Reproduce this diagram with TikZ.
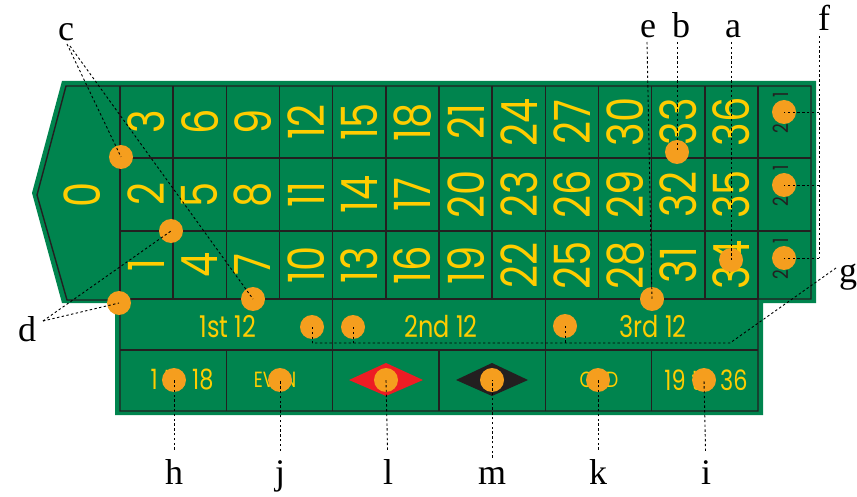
\documentclass[tikz,border=0pt]{standalone}
\usepackage{fontspec}
\newfontfamily\numfont[FakeStretch=0.8]{Poppins}
\newfontfamily\labfont{Liberation Serif}
\definecolor{felt}{RGB}{0,132,78}
\definecolor{gold}{RGB}{255,205,0}
\definecolor{chipc}{RGB}{245,158,30}
\definecolor{redd}{RGB}{237,28,36}
\definecolor{gridc}{RGB}{35,31,32}
\tikzset{
  gridline/.style={draw=gridc, line width=1.4pt},
  num/.style={text=gold, font=\numfont\fontsize{50}{50}\selectfont, inner sep=0pt, rotate=90},
  doz/.style={text=gold, font=\numfont\fontsize{30}{30}\selectfont, inner sep=0pt},
  outside/.style={text=gold, inner sep=0pt},
  tofont/.style={text=gridc, font=\numfont\fontsize{21}{21}\selectfont, inner sep=0pt, rotate=90},
  chip/.style={circle, fill=chipc, minimum size=24pt, inner sep=0pt},
  lab/.style={font=\labfont\fontsize{36}{36}\selectfont, text=black, inner sep=1pt, anchor=base},
  lead/.style={draw=black, line width=0.9pt, dash pattern=on 2.4pt off 2.4pt}
}
\begin{document}
\begin{tikzpicture}[x=1pt,y=-1pt]
\useasboundingbox (0,0) rectangle (857,497);
% felt
\fill[felt] (62,81) -- (816,81) -- (816,303) -- (763,303) -- (763,415) -- (115,415) -- (115,303) -- (62,303) -- (32,193) -- cycle;
% outline
\draw[gridline] (66,86) -- (811,86) -- (811,299) -- (758,299) -- (758,411) -- (120,411) -- (120,300) -- (67,300) -- (37,195) -- cycle;
\draw[gridline] (120,86) -- (120,300);
\foreach \i in {1,...,12} \draw[gridline] ({120+53.17*\i},86) -- ({120+53.17*\i},299);
\draw[gridline] (120,158) -- (811,158);
\draw[gridline] (120,231) -- (811,231);
\draw[gridline] (120,299) -- (758,299);
\draw[gridline] (120,350) -- (758,350);
\draw[gridline] (332.7,299) -- (332.7,350);
\draw[gridline] (545.4,299) -- (545.4,350);
\foreach \k in {1,...,5} \draw[gridline] ({120+106.34*\k},350) -- ({120+106.34*\k},411);
% zero
\node[num] (n0) at (82,195) {0};
% numbers
\foreach \c in {0,...,11} {
  \foreach \y/\o in {122/3,194.5/2,265/1} {
    \pgfmathtruncatemacro{\n}{3*\c+\o}
    \node[num] (n\n) at ({120+53.17*(\c+0.5)},\y) {\n};
  }
}
% 2 to 1
\node[tofont] (t1) at (781,113) {2 to 1};
\node[tofont] (t2) at (781,186) {2 to 1};
\node[tofont] (t3) at (781,259) {2 to 1};
% dozens
\node[doz] (d1) at (228,327) {1st 12};
\node[doz] (d2) at (441,327) {2nd 12};
\node[doz] (d3) at (653,327) {3rd 12};
% outside bets
\node[outside, font=\numfont\fontsize{28}{28}\selectfont] (o1) at (182,380) {1 to 18};
\node[outside, font=\numfont\fontsize{22}{22}\selectfont] (o2) at (275,380) {EVEN};
\fill[redd] (349,380) -- (386,363) -- (423,380) -- (386,396) -- cycle;
\fill[gridc] (456,380) -- (492,363) -- (528,380) -- (492,396) -- cycle;
\node[outside, font=\numfont\fontsize{22}{22}\selectfont] (o5) at (599,380) {ODD};
\node[outside, font=\numfont\fontsize{28}{28}\selectfont] (o6) at (706,380) {19 to 36};
% chips
\node[chip] (cA) at (121,157) {};
\node[chip] (cB) at (171,231) {};
\node[chip] (cC) at (119,303) {};
\node[chip] (cD) at (253,299) {};
\node[chip] (cE) at (312,327) {};
\node[chip] (cF) at (353,327) {};
\node[chip] (cG) at (565,326) {};
\node[chip] (cH) at (652,299) {};
\node[chip] (cI) at (677,152) {};
\node[chip] (cJ) at (731,260) {};
\node[chip] (cK) at (784,112) {};
\node[chip] (cL) at (784,185) {};
\node[chip] (cM) at (784,258) {};
\node[chip] (ch) at (174,380) {};
\node[chip] (cj) at (280,380) {};
\node[chip] (cl) at (386,380) {};
\node[chip] (cm) at (492,380) {};
\node[chip] (ck) at (598,380) {};
\node[chip] (ci) at (704,380) {};
% labels
\node[lab] (lc) at (66,41) {c};
\node[lab] (ld) at (27,341) {d};
\node[lab] (le) at (648,38) {e};
\node[lab] (lb) at (681,38) {b};
\node[lab] (la) at (733,38) {a};
\node[lab] (lf) at (824,31) {f};
\node[lab, anchor=base west, inner sep=0pt] (lg) at (839,283) {g};
\node[lab] (lh) at (174,484) {h};
\node[lab] (lj) at (280,484) {j};
\node[lab] (ll) at (388,484) {l};
\node[lab] (lm) at (492,484) {m};
\node[lab] (lk) at (598,484) {k};
\node[lab] (li) at (706,484) {i};
% leader coordinates
\coordinate (cs1) at (67,44);
\coordinate (cs2) at (70,46);
\coordinate (ds) at (43,321);
\coordinate (ftop) at (819,36);
\coordinate (f1) at (819,112);
\coordinate (f2) at (819,185);
\coordinate (f3) at (819,258);
\coordinate (gs) at (836,268);
\coordinate (g1) at (730,343);
\coordinate (g2) at (312,343);
\coordinate (es) at (647,42);
\coordinate (bs) at (677,42);
\coordinate (as) at (731,42);
% leaders
\draw[lead] (cs1) -- (cA.center);
\draw[lead] (cs2) -- (cD.center);
\draw[lead] (ds) -- (cB.center);
\draw[lead] (ds) -- (cC.center);
\draw[lead] (es) -- (cH.center);
\draw[lead] (bs) -- (cI.center);
\draw[lead] (as) -- (cJ.center);
\draw[lead] (ftop) -- (f3);
\draw[lead] (f1) -- (cK.center);
\draw[lead] (f2) -- (cL.center);
\draw[lead] (f3) -- (cM.center);
\draw[lead] (gs) -- (g1) -- (g2);
\draw[lead] (cE.center) -- (cE.center |- g2);
\draw[lead] (cF.center) -- (cF.center |- g2);
\draw[lead] (cG.center) -- (cG.center |- g2);
\foreach \a/\b in {lh/ch,lj/cj,ll/cl,lm/cm,lk/ck,li/ci}
  \draw[lead, shorten <=8pt] (\a) -- (\b.center);
\end{tikzpicture}
\end{document}
